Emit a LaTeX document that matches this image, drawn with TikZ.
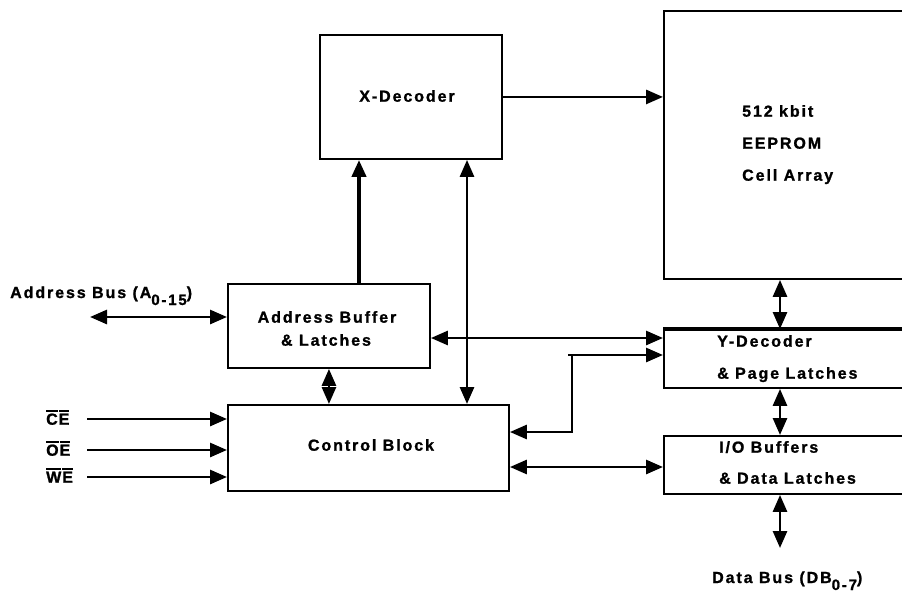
\documentclass[tikz,border=0pt]{standalone}
\usepackage{fontspec}
\setmainfont{Liberation Sans}
\newfontfamily\lblfont{Liberation Sans Bold}[LetterSpace=12, FakeBold=1.2]
\usetikzlibrary{arrows.meta}
\newcommand\ovlbar[1]{\leavevmode\vbox{\hrule height 1.7pt\kern2pt\hbox{#1}}}
\begin{document}
\begin{tikzpicture}[x=1pt,y=-1pt,
  box/.style={draw, line width=1.9pt, inner sep=0pt, anchor=north west},
  lbl/.style={font=\lblfont\fontsize{16}{18}\selectfont, inner sep=0pt, text height=11.4pt, text depth=0pt},
  arr/.style={line width=2.8pt, -{Triangle[length=17pt,width=14pt]}},
  darr/.style={line width=2.8pt, {Triangle[length=17pt,width=14pt]}-{Triangle[length=17pt,width=14pt]}},
  plain/.style={line width=2.8pt}]
\useasboundingbox (0,0) rectangle (902,594);
\clip (0,0) rectangle (902,594);

% boxes
\node[box, minimum width=182pt, minimum height=124pt] (xdec) at (319,34) {};
\node[box, minimum width=260pt, minimum height=268pt] (cell) at (663,10) {};
\node[box, minimum width=202pt, minimum height=84pt] (addr) at (227,283) {};
\node[box, minimum width=281pt, minimum height=86pt] (ctrl) at (227,404) {};
\node[box, minimum width=260pt, minimum height=58pt] (ydec) at (663,329) {};
\node[box, minimum width=260pt, minimum height=58pt] (io) at (663,435) {};
\draw[line width=3.4pt] (ydec.north west) -- (ydec.north east);

% labels
\node[lbl] (xdect) at (407,96) {X-Decoder};
\node[lbl, anchor=west] (cell1) at (742,111) {512 kbit};
\node[lbl, anchor=west] (cell2) at (742,143) {EEPROM};
\node[lbl, anchor=west] (cell3) at (742,175) {Cell Array};
\node[lbl] (addr1) at (327,317) {Address Buffer};
\node[lbl] (addr2) at (326,340) {\& Latches};
\node[lbl] (ctrlt) at (371,445) {Control Block};
\node[lbl, anchor=west] (ydec1) at (717,341) {Y-Decoder};
\node[lbl, anchor=west] (ydec2) at (717,373) {\& Page Latches};
\node[lbl, anchor=west] (io1) at (719,447) {I/O Buffers};
\node[lbl, anchor=west] (io2) at (719,478) {\& Data Latches};
\node[lbl, anchor=base west, text height=, text depth=] (abl) at (10,298) {Address Bus (A\raisebox{-7pt}{\fontsize{15}{16}\selectfont 0-15})};
\node[lbl, anchor=base west, text height=, text depth=] (dbl) at (712,583) {Data Bus (DB\raisebox{-7pt}{\fontsize{15}{16}\selectfont 0-7})};
\node[lbl, anchor=west] (ce) at (46,419) {\ovlbar{C}\kern1pt\ovlbar{E}};
\node[lbl, anchor=west] (oe) at (46,450) {\ovlbar{O}\kern1pt\ovlbar{E}};
\node[lbl, anchor=west] (we) at (46,477) {\ovlbar{W}\kern1pt\ovlbar{E}};

% helper coordinates
\coordinate (c359) at (359,0);
\coordinate (c467) at (467,0);
\coordinate (c572) at (572,0);
\coordinate (c780) at (780,0);
\coordinate (y338) at (0,338);
\coordinate (y355) at (0,355);
\coordinate (y432) at (0,432);
\coordinate (y467) at (0,467);
\coordinate (abus) at (90,317);
\coordinate (dend) at (780,548);
\coordinate (stub) at (568,355);
\coordinate (ces) at (87,419);
\coordinate (oes) at (87,450);
\coordinate (wes) at (87,477);

% connectors
\draw[arr] (xdec.east) -- (xdec.east -| cell.west);
\draw[line width=4pt, -{Triangle[length=17pt,width=14pt]}] (addr.north -| c359) -- (xdec.south -| c359);
\draw[darr] (xdec.south -| c467) -- (ctrl.north -| c467);
\draw[darr] (addr.south) -- (addr.south |- ctrl.north);
\draw[darr] (abus) -- (abus -| addr.west);
\draw[arr] (ces) -- (ces -| ctrl.west);
\draw[arr] (oes) -- (oes -| ctrl.west);
\draw[arr] (wes) -- (wes -| ctrl.west);
\draw[darr] (addr.east |- y338) -- (ydec.west |- y338);
\draw[darr] (ctrl.east |- y432) -- (c572 |- y432) -- (c572 |- y355) -- (ydec.west |- y355);
\draw[plain] (stub) -- (c572 |- y355);
\draw[darr] (ctrl.east |- y467) -- (io.west |- y467);
\draw[darr] (cell.south -| c780) -- (ydec.north -| c780);
\draw[darr] (ydec.south -| c780) -- (io.north -| c780);
\draw[darr] (io.south -| c780) -- (dend);
\end{tikzpicture}
\end{document}
